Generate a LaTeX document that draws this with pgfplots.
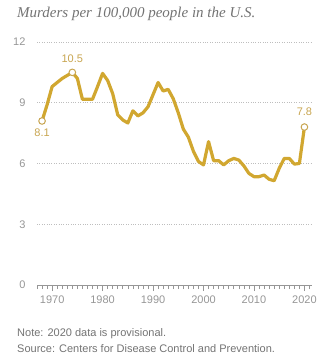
\documentclass[border=0pt]{standalone}
\usepackage{pgfplots}
\pgfplotsset{compat=1.18}
\usepackage{fontspec}
\setmainfont{Liberation Sans}
\newfontfamily\titlefont{Liberation Serif}
\definecolor{gold}{RGB}{209,167,48}
\definecolor{goldlab}{RGB}{200,165,80}
\definecolor{tickgray}{RGB}{150,150,150}
\definecolor{gridgray}{RGB}{190,190,190}
\definecolor{notegray}{RGB}{115,115,115}
\begin{document}
\begin{tikzpicture}[x=1pt,y=1pt]
\path[use as bounding box] (0,0) rectangle (323,364);
\node[anchor=west, inner sep=0, text=notegray, font=\titlefont\itshape\fontsize{15}{17}\selectfont] at (17,350) {Murders per 100,000 people in the U.S.};
\node[anchor=west, inner sep=0, text=notegray, font=\fontsize{11}{12}\selectfont] at (17,30) {Note: 2020 data is provisional.};
\node[anchor=west, inner sep=0, text=notegray, font=\fontsize{11}{12}\selectfont] at (17,15) {Source: Centers for Disease Control and Prevention.};
\begin{axis}[
  at={(37pt,79pt)}, anchor=south west,
  scale only axis, width=275pt, height=243pt,
  xmin=1967, xmax=2021.5, ymin=0, ymax=12,
  axis x line=bottom, axis y line=left,
  x axis line style={-, draw=tickgray},
  y axis line style={-, draw=none},
  xtick={1970,1980,1990,2000,2010,2020},
  minor xtick={1967,1968,...,2021},
  ytick={0,3,6,9,12},
  ytick style={draw=none},
  ymajorgrids, major grid style={gridgray, dotted, line width=0.7pt},
  tick align=outside,
  major tick length=6pt, minor tick length=4pt,
  xtick style={draw=tickgray, line width=0.6pt},
  every minor tick/.append style={draw=tickgray, line width=0.5pt},
  xticklabel style={text=tickgray, font=\fontsize{11}{12}\selectfont, yshift=-1pt},
  yticklabel style={text=tickgray, font=\fontsize{11}{12}\selectfont, anchor=east, xshift=-2pt},
  /pgf/number format/assume math mode=true,
  xticklabel={\pgfmathprintnumber[1000 sep={}]{\tick}},
  clip=false,
]
\addplot[gold, line width=3.2pt, line join=round] coordinates {
(1968,8.1) (1969,8.9) (1970,9.8) (1971,10.0) (1972,10.2) (1973,10.35) (1974,10.5)
(1975,10.2) (1976,9.17) (1977,9.17) (1978,9.17) (1979,9.8) (1980,10.45)
(1981,10.1) (1982,9.45) (1983,8.4) (1984,8.15) (1985,8.0) (1986,8.6) (1987,8.35)
(1988,8.5) (1989,8.8) (1990,9.4) (1991,10.0) (1992,9.58) (1993,9.66) (1994,9.2)
(1995,8.5) (1996,7.7) (1997,7.3) (1998,6.6) (1999,6.1) (2000,5.93) (2001,7.08)
(2002,6.14) (2003,6.14) (2004,5.93) (2005,6.14) (2006,6.25) (2007,6.17) (2008,5.88)
(2009,5.51) (2010,5.35) (2011,5.35) (2012,5.43) (2013,5.22) (2014,5.15) (2015,5.76)
(2016,6.25) (2017,6.25) (2018,5.97) (2019,6.0) (2020,7.8)
};
\addplot[only marks, mark=*, mark size=3.3pt, mark options={fill=white, draw=goldlab, line width=1pt}] coordinates {
(1968,8.1) (1974,10.5) (2020,7.8)
};
\node[text=goldlab, font=\fontsize{11}{12}\selectfont] at (axis cs:1974,10.5) [yshift=14pt] {10.5};
\node[text=goldlab, font=\fontsize{11}{12}\selectfont] at (axis cs:1968,8.1) [yshift=-12pt] {8.1};
\node[text=goldlab, font=\fontsize{11}{12}\selectfont] at (axis cs:2020,7.8) [yshift=15pt] {7.8};
\end{axis}
\end{tikzpicture}
\end{document}
